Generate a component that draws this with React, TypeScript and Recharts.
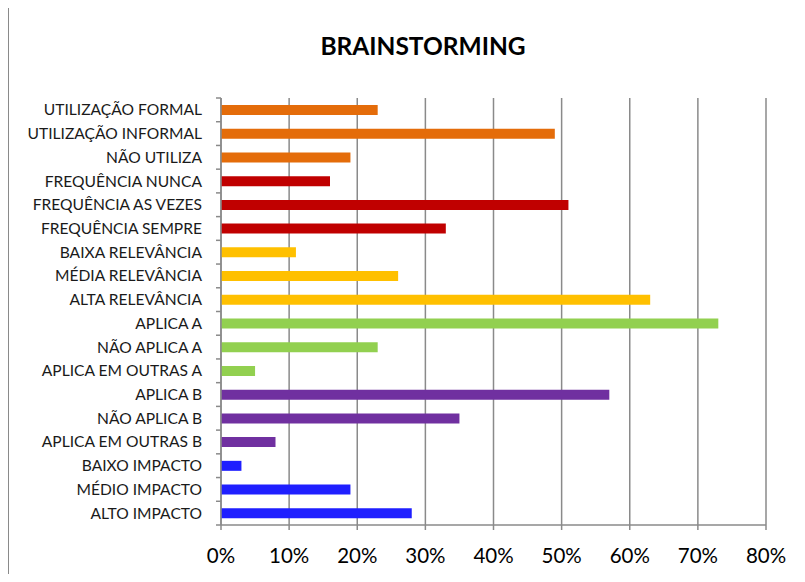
import { BarChart, Bar, Cell, XAxis, YAxis, CartesianGrid } from 'recharts';

const categories = [
  'UTILIZAÇÃO FORMAL',
  'UTILIZAÇÃO INFORMAL',
  'NÃO UTILIZA',
  'FREQUÊNCIA NUNCA',
  'FREQUÊNCIA AS VEZES',
  'FREQUÊNCIA SEMPRE',
  'BAIXA RELEVÂNCIA',
  'MÉDIA RELEVÂNCIA',
  'ALTA RELEVÂNCIA',
  'APLICA A',
  'NÃO APLICA A',
  'APLICA EM OUTRAS A',
  'APLICA B',
  'NÃO APLICA B',
  'APLICA EM OUTRAS B',
  'BAIXO IMPACTO',
  'MÉDIO IMPACTO',
  'ALTO IMPACTO',
];

const values = [0.23, 0.49, 0.19, 0.16, 0.51, 0.33, 0.11, 0.26, 0.63, 0.73, 0.23, 0.05, 0.57, 0.35, 0.08, 0.03, 0.19, 0.28];

const groups = [
  'utilizacao', 'utilizacao', 'utilizacao',
  'frequencia', 'frequencia', 'frequencia',
  'relevancia', 'relevancia', 'relevancia',
  'aplicaA', 'aplicaA', 'aplicaA',
  'aplicaB', 'aplicaB', 'aplicaB',
  'impacto', 'impacto', 'impacto',
];

const xTicks = [0, 0.1, 0.2, 0.3, 0.4, 0.5, 0.6, 0.7, 0.8];

const groupColors: Record<string, string> = {
  utilizacao: '#E46C0A',
  frequencia: '#C00000',
  relevancia: '#FFC000',
  aplicaA: '#92D050',
  aplicaB: '#7030A0',
  impacto: '#1F1FFF',
};

const FONT = 'Lato, "Open Sans", sans-serif';
const GRID = '#8a8a8a';
const PLOT_TOP = 98;
const PLOT_BOTTOM = 525;
const HALF_BAND = (PLOT_BOTTOM - PLOT_TOP) / categories.length / 2;

const data = categories.map((name, i) => ({ name, value: values[i], group: groups[i] }));

const CategoryTick = ({ x, y, payload, index }: any) => {
  const ax = x + 19;
  return (
    <g>
      <text x={x} y={y} dy={5.5} textAnchor="end" fontSize={15.6} fill="#1a1a1a" fontFamily={FONT}>
        {payload.value}
      </text>
      <line x1={ax - 5} x2={ax} y1={y - HALF_BAND} y2={y - HALF_BAND} stroke={GRID} strokeWidth={1.5} />
      {index === categories.length - 1 && (
        <line x1={ax - 5} x2={ax} y1={y + HALF_BAND} y2={y + HALF_BAND} stroke={GRID} strokeWidth={1.5} />
      )}
    </g>
  );
};

export default function App() {
  return (
    <div style={{ position: 'relative', width: 805, height: 582, margin: -8, overflow: 'hidden', background: '#fff' }}>
      <svg width={805} height={12} style={{ position: 'absolute', left: 0, top: 0 }}>
        <text x={-4} y={2} fontSize={20} fontWeight="bold" fontFamily='"Liberation Serif", serif' fill="#000" textLength={750}>
          Gráfico 4 – Mapa da etapa de trabalho (FASE 1): Brainstorming
        </text>
      </svg>
      <div
        style={{
          position: 'absolute',
          left: 8,
          top: 7,
          width: 820,
          height: 572,
          border: '1.5px solid #8a8a8a',
          boxSizing: 'border-box',
        }}
      />
      <div style={{ position: 'absolute', left: 0, top: 0 }}>
        <BarChart
          width={805}
          height={582}
          data={data}
          layout="vertical"
          margin={{ top: PLOT_TOP, right: 39, bottom: 0, left: 0 }}
          barSize={10}
        >
          <text x={423} y={55} textAnchor="middle" fontSize={24.5} fontWeight="bold" fontFamily={FONT} fill="#000">
            BRAINSTORMING
          </text>
          <CartesianGrid horizontal={false} stroke={GRID} strokeWidth={1.5} />
          <XAxis
            type="number"
            domain={[0, 0.8]}
            ticks={xTicks}
            tickFormatter={(v: number) => `${Math.round(v * 100)}%`}
            height={582 - PLOT_BOTTOM}
            stroke={GRID}
            strokeWidth={1.5}
            tickSize={5}
            tickMargin={18}
            tick={{ fontSize: 20.5, fill: '#000', fontFamily: FONT }}
          />
          <YAxis
            type="category"
            dataKey="name"
            width={221}
            stroke={GRID}
            strokeWidth={1.5}
            tickLine={false}
            tickSize={0}
            tickMargin={19}
            interval={0}
            tick={<CategoryTick />}
          />
          <Bar dataKey="value" isAnimationActive={false}>
            {data.map((d, i) => (
              <Cell key={`cell-${i}`} fill={groupColors[d.group]} />
            ))}
          </Bar>
        </BarChart>
      </div>
    </div>
  );
}
